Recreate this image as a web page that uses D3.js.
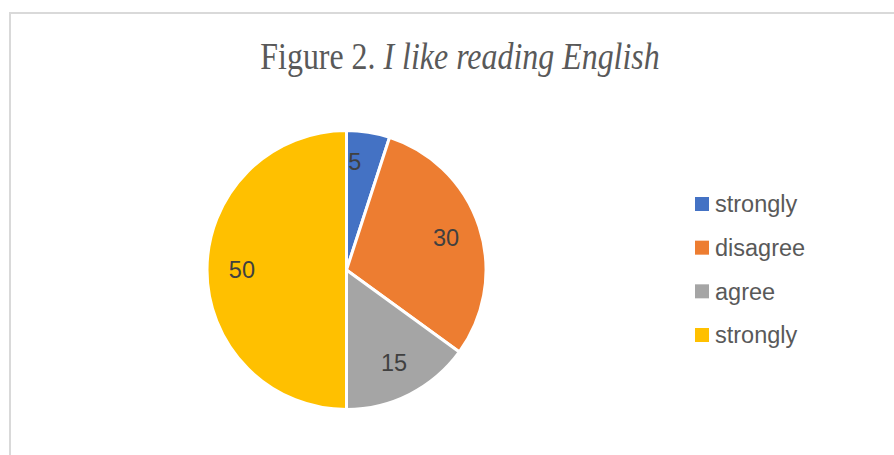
<!DOCTYPE html>
<html lang="en">
<head>
    <meta charset="UTF-8">
    <script src="https://cdn.jsdelivr.net/npm/d3@7.8.5/dist/d3.min.js"></script>
    <title>I like reading English</title>
    <style>
        body { margin: 0; background: #fff; }
        .frame { fill: #fff; stroke: #d9d9d9; stroke-width: 2; }
        .title { font-family: "Liberation Serif", "Times New Roman", serif; font-size: 38px; fill: #595959; }
        .lbl { font-family: "Liberation Sans", Arial, sans-serif; font-size: 23.5px; fill: #404040; }
        .leg { font-family: "Liberation Sans", Arial, sans-serif; font-size: 23.5px; fill: #595959; }
    </style>
</head>
<body onload="main()">
    <svg width="894" height="455"></svg>
    <script type="text/javascript">
        // chart data
        var categories = ["strongly", "disagree", "agree", "strongly"];
        var values = [5, 30, 15, 50];
        var colors = ["#4472c4", "#ed7d31", "#a5a5a5", "#ffc000"];

        function main() {
            var svg = d3.select("svg");

            // chart area border (bottom runs off the picture)
            svg.append("rect").attr("class", "frame")
                .attr("x", 10).attr("y", 13).attr("width", 900).attr("height", 460);

            // title - the original is drawn narrow, so squeeze it sideways
            var title = svg.append("g").attr("transform", "translate(460,69) scale(0.84,1)")
                .append("text").attr("class", "title").attr("text-anchor", "middle");
            title.append("tspan").text("Figure 2. ");
            title.append("tspan").attr("font-style", "italic").text("I like reading English");

            var cx = 346.5, cy = 270, radius = 139.5;
            var g = svg.append("g").attr("transform", "translate(" + cx + "," + cy + ")");

            var pie = d3.pie().sort(null).value(function(d){ return d; });
            var arc = d3.arc().innerRadius(0).outerRadius(radius);
            var labelArc = d3.arc().innerRadius(radius * 0.75).outerRadius(radius * 0.75);

            var arcs = pie(values);

            g.selectAll(".slice")
                .data(arcs)
                .enter().append("path")
                .attr("class", "slice")
                .attr("d", arc)
                .attr("fill", function(d, i){ return colors[i]; })
                .attr("stroke", "#fff")
                .attr("stroke-width", 3)
                .attr("stroke-linejoin", "round");

            g.selectAll(".lbl")
                .data(arcs)
                .enter().append("text")
                .attr("class", "lbl")
                .attr("transform", function(d){
                    var c = labelArc.centroid(d);
                    // small slice: label gets pushed towards the slice edge
                    if (d.endAngle - d.startAngle < 0.5) { c[0] -= 8; c[1] -= 5; }
                    return "translate(" + c[0] + "," + c[1] + ")";
                })
                .attr("text-anchor", "middle")
                .attr("dy", "0.35em")
                .text(function(d){ return d.data; });

            // legend
            var legY = d3.scalePoint().domain(d3.range(categories.length)).range([204, 335]);
            var item = svg.append("g").selectAll(".item")
                .data(categories)
                .enter().append("g")
                .attr("class", "item")
                .attr("transform", function(d, i){ return "translate(695," + legY(i) + ")"; });
            item.append("rect")
                .attr("x", 0).attr("y", -7).attr("width", 14).attr("height", 14)
                .attr("fill", function(d, i){ return colors[i]; });
            item.append("text").attr("class", "leg")
                .attr("x", 20).attr("dy", "0.35em")
                .text(function(d){ return d; });
        }
    </script>
</body>
</html>
